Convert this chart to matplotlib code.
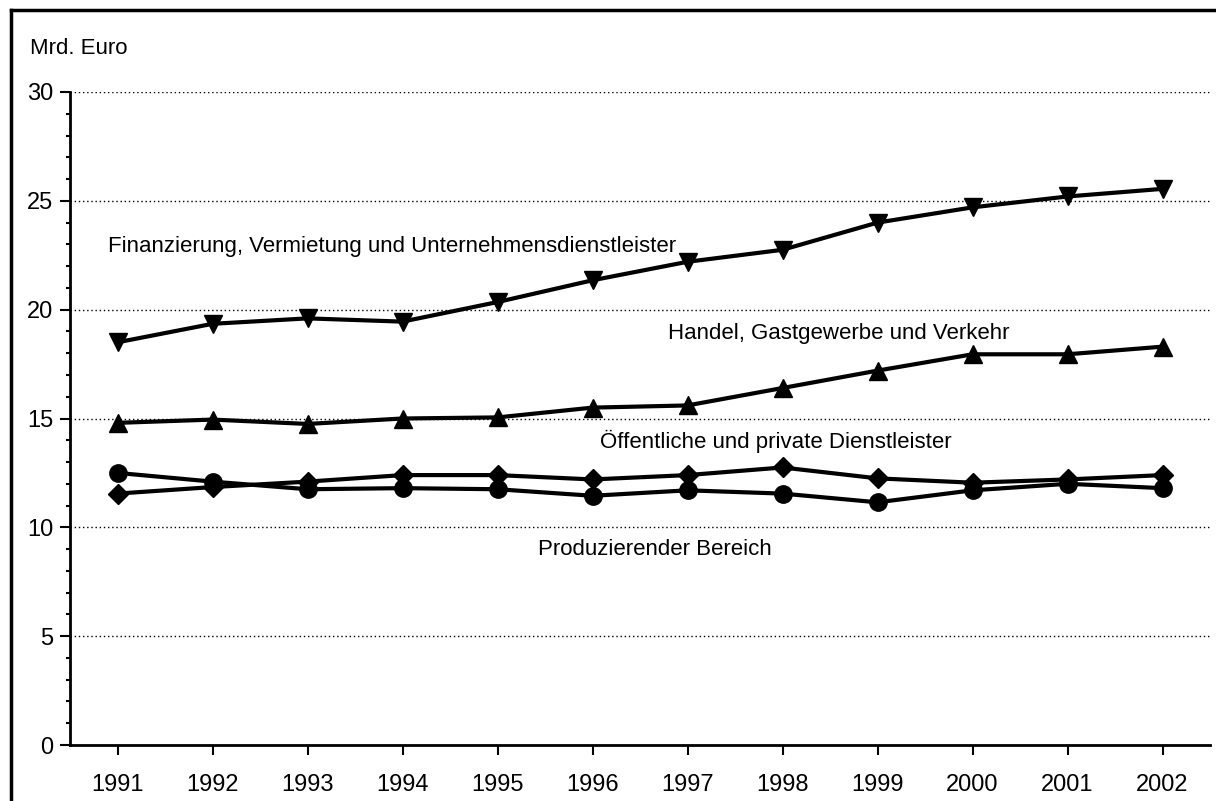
import numpy as np
import matplotlib
matplotlib.use("Agg")
import matplotlib.pyplot as plt
from matplotlib.ticker import MultipleLocator
from matplotlib.lines import Line2D

plt.rcParams['font.family'] = ['Liberation Sans Narrow', 'Liberation Sans', 'DejaVu Sans']

years = np.arange(1991, 2003)
finanzierung = [18.5, 19.35, 19.6, 19.45, 20.35, 21.35, 22.2, 22.75, 24.0, 24.7, 25.2, 25.55]
handel = [14.8, 14.95, 14.75, 15.0, 15.05, 15.5, 15.6, 16.4, 17.2, 17.95, 17.95, 18.3]
oeffentliche = [11.55, 11.85, 12.1, 12.4, 12.4, 12.2, 12.4, 12.75, 12.25, 12.05, 12.2, 12.4]
produzierend = [12.5, 12.1, 11.75, 11.8, 11.75, 11.45, 11.7, 11.55, 11.15, 11.7, 12.0, 11.8]

labels = ["Finanzierung, Vermietung und Unternehmensdienstleister",
          "Handel, Gastgewerbe und Verkehr",
          "Öffentliche und private Dienstleister",
          "Produzierender Bereich"]

fig = plt.figure(figsize=(12.16, 8.01), dpi=100)
ax = fig.add_axes([70 / 1216, 1 - 745 / 801, 1140 / 1216, (745 - 92) / 801])

lw = 3
ax.plot(years, finanzierung, color='black', lw=lw, marker='v', ms=13, zorder=3)
ax.plot(years, handel, color='black', lw=lw, marker='^', ms=13, zorder=3)
ax.plot(years, oeffentliche, color='black', lw=lw, marker='D', ms=10, zorder=3)
ax.plot(years, produzierend, color='black', lw=lw, marker='o', ms=12.5, zorder=3)

fs = 16
ax.text(1990.9, 22.9, labels[0], fontsize=fs, va='center', ha='left')
ax.text(1996.8, 18.9, labels[1], fontsize=fs, va='center', ha='left')
ax.text(1996.08, 13.95, labels[2], fontsize=fs, va='center', ha='left')
ax.text(1995.43, 9.0, labels[3], fontsize=fs, va='center', ha='left')

ax.set_xlim(1990.5, 2002.5)
ax.set_ylim(0, 30)
ax.set_xticks(years)
ax.set_xticklabels([str(y) for y in years])
ax.yaxis.set_major_locator(MultipleLocator(5))
ax.yaxis.set_minor_locator(MultipleLocator(1))
ax.tick_params(axis='both', which='major', labelsize=17, length=7, width=1.5, color='black')
ax.tick_params(axis='y', which='minor', length=3, width=1.5)
ax.tick_params(axis='x', pad=14)
ax.tick_params(axis='y', pad=5)

ax.grid(axis='y', which='major', color='black', linestyle=(0, (1, 2)), lw=1.0)
ax.spines['top'].set_visible(False)
ax.spines['right'].set_visible(False)
ax.spines['left'].set_linewidth(2)
ax.spines['bottom'].set_linewidth(2)
ax.set_axisbelow(True)

fig.text(30 / 1216, 1 - 48 / 801, "Mrd. Euro", fontsize=16, va='center', ha='left')

# frame around the picture (left and top edges visible)
fig.add_artist(Line2D([11 / 1216, 11 / 1216], [0, 1 - 10 / 801], color='black', lw=2.5,
                      transform=fig.transFigure))
fig.add_artist(Line2D([11 / 1216, 1], [1 - 10 / 801, 1 - 10 / 801], color='black', lw=2.5,
                      transform=fig.transFigure))

fig.savefig("out.png", dpi=100)
